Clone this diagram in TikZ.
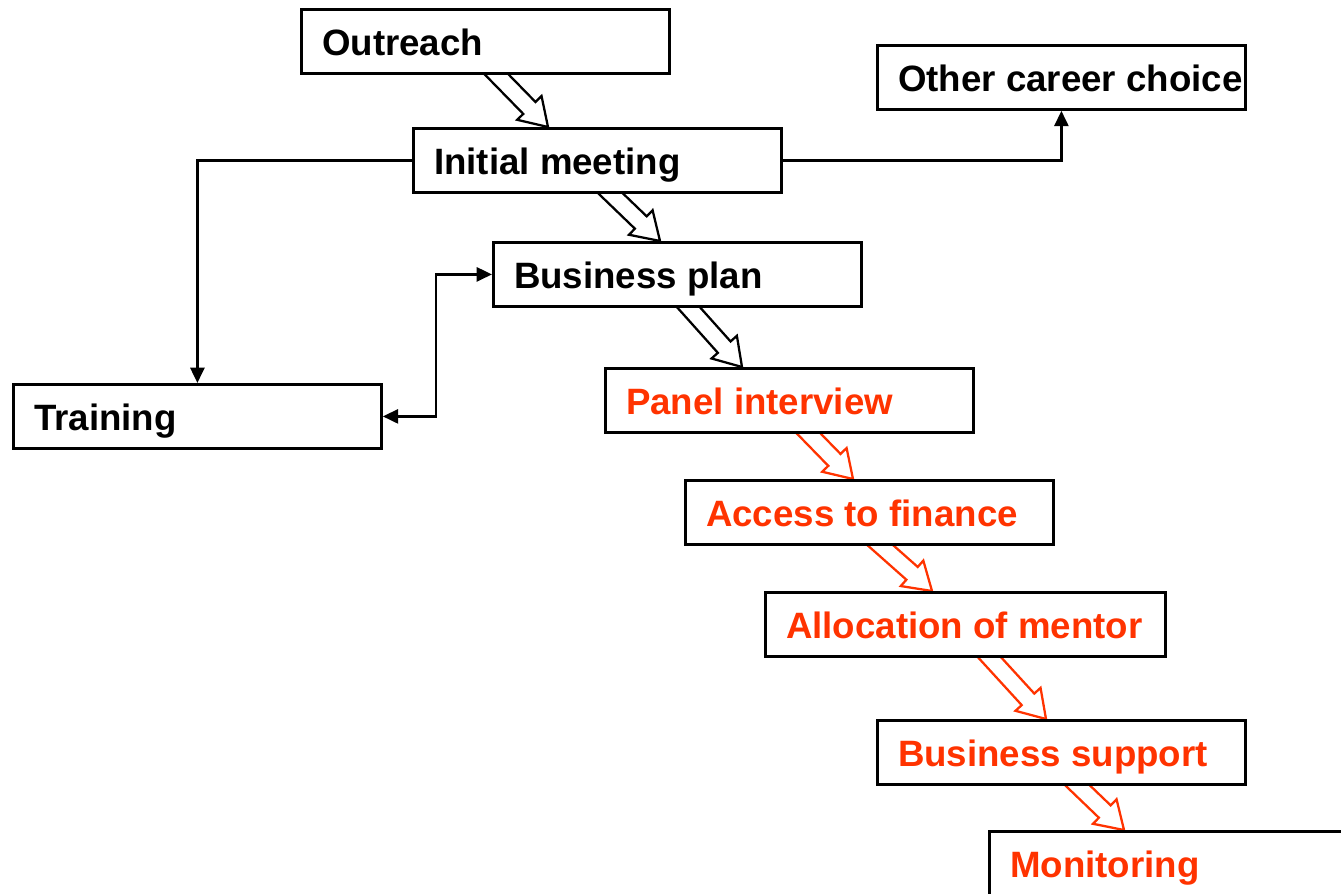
\documentclass[tikz,border=0pt]{standalone}
\usepackage{fontspec}
\setmainfont{Liberation Sans}
\usetikzlibrary{calc,arrows.meta}
\definecolor{flowred}{RGB}{255,51,0}
\pgfdeclarelayer{bg}
\pgfsetlayers{bg,main}
\newcommand{\blkarrow}[3]{%
  \coordinate (ba-s) at #2; \coordinate (ba-t) at #3;
  \coordinate (ba-s0) at ($(ba-s)!-15pt!(ba-t)$);
  \coordinate (ba-b) at ($(ba-t)!20pt!(ba-s)$);
  \draw[blk,#1] ($(ba-s0)!6.4pt!90:(ba-t)$) -- ($(ba-b)!6.4pt!90:(ba-t)$)
     -- ($(ba-b)!12.75pt!90:(ba-t)$) -- (ba-t) -- ($(ba-b)!12.75pt!-90:(ba-t)$)
     -- ($(ba-b)!6.4pt!-90:(ba-t)$) -- ($(ba-s0)!6.4pt!-90:(ba-t)$);
}
\newcommand{\bxt}[2]{\hbox to #1{#2\hss}}
\tikzset{
  stepbox/.style={draw=black, line width=2.1pt, fill=white, rectangle, anchor=north west,
    minimum height=48pt, inner xsep=15.5pt, inner ysep=0pt, text height=26pt, text depth=5.2pt,
    font=\fontsize{27.5}{33}\selectfont\bfseries},
  redtext/.style={text=flowred},
  conn/.style={line width=2pt, draw=black, -{Triangle[length=11.5pt,width=10.5pt]}},
  biconn/.style={line width=2pt, draw=black, {Triangle[length=11.5pt,width=10.5pt]}-{Triangle[length=11.5pt,width=10.5pt]}},
  blk/.style={line width=1.7pt, line join=miter, fill=white}
}
\begin{document}
\begin{tikzpicture}[x=0.75pt,y=-0.75pt]
\useasboundingbox (0,0) rectangle (1341,893);
\clip (0,0) rectangle (1341,893);
\node[stepbox] (outreach) at (300,8) {\bxt{245pt}{Outreach}};
\node[stepbox] (other) at (876,44) {\bxt{245pt}{Other career choice}};
\node[stepbox] (initial) at (412,127) {\bxt{245pt}{Initial meeting}};
\node[stepbox] (bplan) at (492,241) {\bxt{245pt}{Business plan}};
\node[stepbox] (training) at (12,383) {\bxt{245pt}{Training}};
\node[stepbox,redtext] (panel) at (604,367) {\bxt{245pt}{Panel interview}};
\node[stepbox,redtext] (access) at (684,479) {\bxt{245pt}{Access to finance}};
\node[stepbox,redtext] (alloc) at (764,591) {\bxt{269pt}{Allocation of mentor}};
\node[stepbox,redtext] (support) at (876,719) {\bxt{245pt}{Business support}};
\node[stepbox,redtext] (monitor) at (988,830) {\bxt{245pt}{Monitoring}};

\draw[conn] (initial.west) -| (training.north);
\draw[conn] (initial.east) -| (other.south);
\draw[biconn] (training.east) -| ($(bplan.west)+(-56,0)$) -- (bplan.west);

\begin{pgfonlayer}{bg}
\blkarrow{draw=black}{($(outreach.south west)+(197,0)$)}{($(initial.north west)+(136,0)$)}
\blkarrow{draw=black}{($(initial.south west)+(199,0)$)}{($(bplan.north west)+(168,0)$)}
\blkarrow{draw=black}{($(bplan.south west)+(197,0)$)}{($(panel.north west)+(138,0)$)}
\blkarrow{draw=flowred}{($(panel.south west)+(205,0)$)}{($(access.north west)+(169,0)$)}
\blkarrow{draw=flowred}{($(access.south west)+(197,0)$)}{($(alloc.north west)+(168,0)$)}
\blkarrow{draw=flowred}{($(alloc.south west)+(226,0)$)}{($(support.north west)+(170,0)$)}
\blkarrow{draw=flowred}{($(support.south west)+(202,0)$)}{($(monitor.north west)+(136,0)$)}
\end{pgfonlayer}
\end{tikzpicture}
\end{document}
